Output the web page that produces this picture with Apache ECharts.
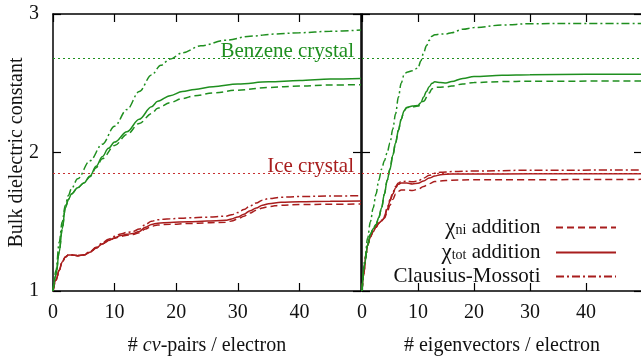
<!DOCTYPE html>
<html>
<head>
<meta charset="utf-8">
<script src="https://cdn.jsdelivr.net/npm/echarts@6/dist/echarts.min.js"></script>
<style>
  html, body { margin: 0; padding: 0; background: #fff; }
  #chart { width: 641px; height: 358px; }
</style>
</head>
<body>
<div id="chart"></div>
<script>
// reference lines
const benzeneCrystal = 2.682;
const iceCrystal = 1.847;

// left panel: # cv-pairs / electron
const cvBenzeneTot = [[0,1],[0.5,1.12],[1,1.28],[1.5,1.45],[2,1.6],[2.5,1.66],[3,1.7],[4,1.745],[5,1.78],[6,1.83],[7,1.9],[8,1.97],[9,2.03],[10,2.075],[12,2.15],[14,2.24],[16,2.33],[17,2.37],[19,2.41],[21,2.44],[23,2.455],[26,2.475],[30,2.495],[35,2.51],[40,2.52],[45,2.53],[50,2.535]];
const cvBenzeneNi = [[0,1],[0.5,1.12],[1,1.28],[1.5,1.45],[2,1.6],[2.5,1.66],[3,1.7],[4,1.745],[5,1.78],[6,1.825],[7,1.89],[8,1.955],[10,2.05],[12,2.13],[14,2.21],[16,2.28],[17,2.32],[19,2.36],[21,2.39],[23,2.41],[26,2.43],[30,2.45],[35,2.47],[40,2.48],[45,2.487],[50,2.49]];
const cvBenzeneCM = [[0,1],[0.5,1.15],[1,1.35],[1.5,1.5],[2,1.62],[2.5,1.69],[3,1.74],[4,1.81],[6,1.94],[8,2.06],[10,2.19],[12,2.31],[14,2.44],[16,2.56],[17.5,2.63],[19,2.675],[21,2.72],[24,2.77],[28,2.81],[32,2.84],[36,2.855],[40,2.865],[45,2.875],[50,2.885]];
const cvIceTot = [[0,1],[0.5,1.08],[1,1.15],[1.5,1.21],[2,1.245],[2.5,1.26],[3,1.26],[4,1.255],[5,1.26],[6,1.28],[7,1.31],[8,1.34],[9,1.365],[10,1.385],[11,1.4],[12,1.41],[13,1.415],[14,1.43],[15,1.46],[16,1.48],[17,1.49],[19,1.495],[22,1.5],[25,1.505],[28,1.51],[29,1.52],[30,1.535],[31,1.555],[32,1.58],[33,1.6],[34,1.62],[35,1.63],[37,1.64],[40,1.645],[45,1.648],[50,1.65]];
const cvIceNi = [[0,1],[0.5,1.08],[1,1.15],[1.5,1.21],[2,1.245],[2.5,1.26],[3,1.26],[4,1.255],[5,1.26],[6,1.28],[7,1.31],[8,1.34],[9,1.362],[10,1.38],[11,1.395],[12,1.403],[13,1.408],[14,1.42],[15,1.447],[16,1.467],[17,1.477],[19,1.482],[22,1.487],[25,1.492],[28,1.497],[29,1.505],[30,1.52],[31,1.54],[32,1.563],[33,1.583],[34,1.6],[35,1.61],[37,1.62],[40,1.624],[45,1.626],[50,1.628]];
const cvIceCM = [[0,1],[0.5,1.08],[1,1.15],[1.5,1.21],[2,1.245],[2.5,1.26],[3,1.26],[4,1.255],[5,1.262],[6,1.284],[7,1.315],[8,1.347],[9,1.373],[10,1.395],[11,1.412],[12,1.423],[13,1.43],[14,1.447],[15,1.48],[16,1.503],[17,1.515],[19,1.522],[22,1.528],[25,1.533],[28,1.54],[29,1.55],[30,1.566],[31,1.588],[32,1.614],[33,1.636],[34,1.656],[35,1.667],[37,1.677],[40,1.682],[45,1.686],[50,1.688]];

// right panel: # eigenvectors / electron
const evBenzeneTot = [[0,1],[0.5,1.2],[1,1.33],[1.5,1.41],[2,1.45],[2.5,1.48],[3,1.53],[3.5,1.6],[4,1.7],[4.5,1.8],[5,1.88],[5.5,1.98],[6,2.07],[6.5,2.16],[7,2.24],[7.5,2.3],[8,2.325],[9,2.335],[10,2.34],[10.5,2.36],[11,2.4],[11.5,2.44],[12,2.475],[12.5,2.5],[13,2.51],[14,2.505],[15,2.502],[16,2.512],[18,2.535],[20,2.548],[25,2.558],[30,2.562],[40,2.565],[50,2.565]];
const evBenzeneNi = [[0,1],[0.5,1.2],[1,1.33],[1.5,1.41],[2,1.45],[2.5,1.48],[3,1.53],[3.5,1.6],[4,1.7],[4.5,1.8],[5,1.88],[5.5,1.98],[6,2.07],[6.5,2.16],[7,2.24],[7.5,2.3],[8,2.325],[9,2.33],[10,2.335],[11,2.37],[12,2.43],[12.5,2.46],[13,2.47],[14,2.472],[15,2.474],[16,2.48],[18,2.495],[20,2.505],[25,2.512],[30,2.515],[50,2.516]];
const evBenzeneCM = [[0,1],[0.5,1.22],[1,1.38],[1.5,1.5],[2,1.6],[2.5,1.7],[3,1.8],[3.5,1.88],[4,1.94],[4.5,2],[5,2.07],[5.5,2.17],[6,2.28],[6.5,2.4],[7,2.5],[7.5,2.56],[8,2.58],[9,2.59],[10,2.61],[10.5,2.66],[11,2.72],[11.5,2.77],[12,2.81],[12.5,2.84],[13,2.85],[14,2.855],[15,2.856],[16,2.865],[18,2.89],[20,2.902],[25,2.92],[30,2.93],[40,2.932],[50,2.932]];
const evIceTot = [[0,1],[0.3,1.12],[0.7,1.26],[1,1.33],[1.5,1.39],[2,1.43],[2.5,1.46],[3,1.49],[3.5,1.505],[4,1.53],[4.5,1.59],[5,1.65],[5.5,1.7],[6,1.745],[6.5,1.77],[7,1.78],[8,1.78],[9,1.773],[10,1.778],[11,1.795],[12,1.815],[13,1.83],[14,1.84],[16,1.845],[20,1.845],[30,1.846],[50,1.846]];
const evIceNi = [[0,1],[0.3,1.12],[0.7,1.26],[1,1.33],[1.5,1.39],[2,1.43],[2.5,1.46],[3,1.49],[3.5,1.505],[4,1.525],[4.5,1.57],[5,1.62],[5.5,1.66],[6,1.7],[6.5,1.72],[7,1.73],[8,1.73],[9,1.725],[10,1.735],[11,1.755],[12,1.775],[13,1.79],[14,1.795],[16,1.8],[20,1.803],[50,1.806]];
const evIceCM = [[0,1],[0.3,1.12],[0.7,1.26],[1,1.335],[1.5,1.395],[2,1.435],[2.5,1.465],[3,1.495],[3.5,1.51],[4,1.54],[4.5,1.6],[5,1.66],[5.5,1.71],[6,1.755],[6.5,1.78],[7,1.79],[8,1.792],[9,1.788],[10,1.795],[11,1.815],[12,1.835],[13,1.85],[14,1.857],[16,1.862],[20,1.866],[30,1.872],[50,1.874]];

const GREEN = '#1f8f1f';
const RED = '#a81d1d';
const DOT_RED = '#c83030';
const FONT = '"Liberation Serif", "Times New Roman", serif';
const TXT = '#111';
const DASH = [7, 4];
const DASHDOT = [8, 3, 2, 3];

const chart = echarts.init(document.getElementById('chart'));

function line(name, data, color, type, idx) {
  return {
    name: name,
    type: 'line',
    xAxisIndex: idx,
    yAxisIndex: idx,
    data: data,
    showSymbol: false,
    symbol: 'none',
    smooth: 0.35,
    smoothMonotone: 'x',
    lineStyle: { color: color, width: 1.5, type: type },
    itemStyle: { color: color },
    animation: false,
  };
}

function xAx(grid, pos, labels, name) {
  return {
    type: 'value',
    gridIndex: grid,
    position: pos,
    min: 0,
    max: 50,
    interval: 10,
    axisLine: { show: true, onZero: false, lineStyle: { color: '#000', width: 1.5 } },
    axisTick: { show: true, inside: true, length: 8, lineStyle: { color: '#000', width: 1.2 } },
    axisLabel: {
      show: labels,
      showMaxLabel: false,
      margin: 12,
      fontFamily: FONT,
      fontSize: 20,
      color: TXT,
    },
    splitLine: { show: false },
    name: name || '',
    nameLocation: 'middle',
    nameGap: 45,
    nameMoveOverlap: false,
    nameTextStyle: {
      fontFamily: FONT,
      fontSize: 20,
      color: TXT,
      rich: {
        r: { fontFamily: FONT, fontSize: 20, color: TXT },
        i: { fontFamily: FONT, fontSize: 20, fontStyle: 'italic', color: TXT },
      },
    },
  };
}

function yAx(grid, pos, labels, name) {
  return {
    type: 'value',
    gridIndex: grid,
    position: pos,
    min: 1,
    max: 3,
    interval: 1,
    axisLine: { show: true, onZero: false, lineStyle: { color: '#000', width: 1.5 } },
    axisTick: { show: true, inside: true, length: 8, lineStyle: { color: '#000', width: 1.2 } },
    axisLabel: { show: labels, margin: 14, fontFamily: FONT, fontSize: 20, color: TXT },
    splitLine: { show: false },
    name: name || '',
    nameLocation: 'middle',
    nameGap: 26,
    nameMoveOverlap: false,
    nameTextStyle: { fontFamily: FONT, fontSize: 20, color: TXT },
  };
}

function refLines(withLabels) {
  const lab = (text, color) => withLabels ? {
    show: true, formatter: text, position: 'insideEndTop', distance: [7, -4],
    fontFamily: FONT, fontSize: 21, color: color,
  } : { show: false };
  return {
    silent: true,
    symbol: 'none',
    animation: false,
    data: [
      { yAxis: benzeneCrystal, lineStyle: { color: GREEN, type: [2, 3], width: 1.2, opacity: 1 }, label: lab('Benzene crystal', GREEN) },
      { yAxis: iceCrystal, lineStyle: { color: DOT_RED, type: [2, 3], width: 1.2, opacity: 1 }, label: lab('Ice crystal', RED) },
    ],
  };
}

const legendText = {
  ni: '{g|χ}{s|ni}{t| addition  }',
  tot: '{g|χ}{s|tot}{t| addition  }',
  cm: '{t|Clausius-Mossoti  }',
};

const series = [
  line('ni', cvIceNi, RED, DASH, 0),
  line('tot', cvIceTot, RED, 'solid', 0),
  line('cm', cvIceCM, RED, DASHDOT, 0),
  line('bz-ni', cvBenzeneNi, GREEN, DASH, 0),
  line('bz-tot', cvBenzeneTot, GREEN, 'solid', 0),
  line('bz-cm', cvBenzeneCM, GREEN, DASHDOT, 0),
  line('ni', evIceNi, RED, DASH, 1),
  line('tot', evIceTot, RED, 'solid', 1),
  line('cm', evIceCM, RED, DASHDOT, 1),
  line('bz-ni', evBenzeneNi, GREEN, DASH, 1),
  line('bz-tot', evBenzeneTot, GREEN, 'solid', 1),
  line('bz-cm', evBenzeneCM, GREEN, DASHDOT, 1),
];
series[0].markLine = refLines(true);
series[6].markLine = refLines(false);

const option = {
  backgroundColor: '#fff',
  animation: false,
  textStyle: { fontFamily: FONT },
  grid: [
    { left: 53, top: 14, width: 308, height: 277, outerBoundsMode: 'none', containLabel: false },
    { left: 362, top: 14, width: 280, height: 277, outerBoundsMode: 'none', containLabel: false },
  ],
  xAxis: [
    xAx(0, 'bottom', true, '{r|# }{i|cv}{r|-pairs / electron}'),
    xAx(1, 'bottom', true, '# eigenvectors / electron'),
    xAx(0, 'top', false),
    xAx(1, 'top', false),
  ],
  yAxis: [
    yAx(0, 'left', true, 'Bulk dielectric constant'),
    yAx(1, 'left', false),
    yAx(0, 'right', false),
    yAx(1, 'right', false),
  ],
  legend: {
    orient: 'vertical',
    right: 24,
    top: 216,
    padding: 0,
    align: 'right',
    itemWidth: 60,
    itemHeight: 14,
    itemGap: 2,
    itemStyle: { opacity: 0 },
    data: ['ni', 'tot', 'cm'],
    formatter: (n) => legendText[n],
    textStyle: {
      fontFamily: FONT,
      fontSize: 21,
      color: TXT,
      rich: {
        g: { fontFamily: FONT, fontSize: 23, color: TXT, lineHeight: 20 },
        s: { fontFamily: FONT, fontSize: 14, color: TXT, lineHeight: 9, verticalAlign: 'bottom' },
        t: { fontFamily: FONT, fontSize: 21, color: TXT, lineHeight: 20 },
      },
    },
  },
  series: series,
};

chart.setOption(option);
</script>
</body>
</html>
